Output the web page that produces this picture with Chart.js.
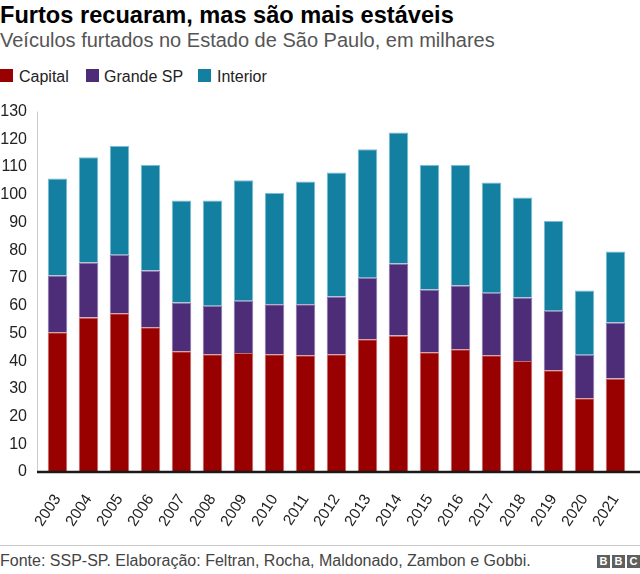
<!DOCTYPE html>
<html>
<head>
<meta charset="utf-8">
<script src="https://cdn.jsdelivr.net/npm/chart.js@4.4.1/dist/chart.umd.min.js"></script>
<style>
  html, body { margin: 0; padding: 0; background: #fff; }
  body { width: 640px; height: 574px; position: relative; overflow: hidden;
         font-family: "Liberation Sans", Arial, Helvetica, sans-serif; }
  .abs { position: absolute; white-space: nowrap; line-height: 1; }
  #title { left: 0; top: 4px; font-size: 23.6px; font-weight: bold; color: #000; }
  #subtitle { left: 0; top: 30px; font-size: 20px; color: #555; }
  #legend { left: 0; top: 69px; height: 16px; font-size: 16px; color: #222; }
  .lg-box { position: absolute; top: 0; width: 13px; height: 13px; }
  .lg-text { position: absolute; top: 0px; }
  #chartCanvas { position: absolute; left: 0; top: 87px; }
  #footline { position: absolute; left: 0; top: 545px; width: 640px; height: 1px; background: #c8c8c8; }
  #source { left: 0; top: 553px; font-size: 16px; color: #444; }
  #bbc { position: absolute; right: 0; top: 555px; height: 13px; }
  #bbc span { display: inline-block; width: 13px; height: 13px; margin-left: 2px; background: #5f5f5f;
              color: #fff; font-weight: bold; font-size: 11px; line-height: 13px; text-align: center; vertical-align: top; }
</style>
</head>
<body>
<div id="title" class="abs">Furtos recuaram, mas são mais estáveis</div>
<div id="subtitle" class="abs">Veículos furtados no Estado de São Paulo, em milhares</div>
<div id="legend" class="abs"></div>
<canvas id="chartCanvas" width="640" height="445"></canvas>
<div id="footline"></div>
<div id="source" class="abs">Fonte: SSP-SP. Elaboração: Feltran, Rocha, Maldonado, Zambon e Gobbi.</div>
<div id="bbc"><span>B</span><span>B</span><span>C</span></div>
<script>
// ---- Data (thousands of vehicles) ----
const years = ["2003","2004","2005","2006","2007","2008","2009","2010","2011","2012",
               "2013","2014","2015","2016","2017","2018","2019","2020","2021"];
const capital  = [50.4,55.7,57.3,52.2,43.6,42.5,42.9,42.5,42.1,42.5,47.9,49.2,43.2,44.3,42.1,40.0,36.7,26.6,33.7];
const grandeSP = [20.5,19.9,21.1,20.5,17.5,17.5,18.9,18.0,18.4,20.8,22.2,26.0,22.6,23.0,22.6,22.9,21.5,15.7,20.2];
const interior = [35.0,37.9,39.2,38.0,36.8,37.9,43.4,40.1,44.3,44.7,46.3,47.3,44.9,43.4,39.7,36.1,32.3,23.2,25.6];
const yTickValues = [0,10,20,30,40,50,60,70,80,90,100,110,120,130];
const seriesNames = ["Capital","Grande SP","Interior"];

const colors = ["#990000","#4d2c78","#1380a1"];
const borders = ["#c66a6a","#8a74ad","#7cbdd3"];

// ---- Legend (HTML) ----
const legendPos = [[0,19],[86,104],[198,217]];
const legendEl = document.getElementById('legend');
seriesNames.forEach((name,i)=>{
  const b = document.createElement('div');
  b.className='lg-box'; b.style.left=legendPos[i][0]+'px'; b.style.background=colors[i];
  legendEl.appendChild(b);
  const t = document.createElement('div');
  t.className='lg-text'; t.style.left=legendPos[i][1]+'px'; t.textContent=name;
  legendEl.appendChild(t);
});

const axisLines = {
  id: 'axisLines',
  afterDatasetsDraw(chart) {
    const ctx = chart.ctx, y = chart.scales.y, left = chart.chartArea.left;
    const y0 = y.getPixelForValue(0), yTop = y.getPixelForValue(yTickValues[yTickValues.length-1]);
    ctx.save();
    ctx.strokeStyle = '#cccccc'; ctx.lineWidth = 1;
    ctx.beginPath(); ctx.moveTo(left - 4.5, yTop); ctx.lineTo(left - 4.5, y0); ctx.stroke();
    ctx.strokeStyle = '#1a1a1a'; ctx.lineWidth = 2.5;
    ctx.beginPath(); ctx.moveTo(left - 5, y0); ctx.lineTo(chart.width, y0); ctx.stroke();
    ctx.restore();
  }
};

const fontFam = '"Liberation Sans", Arial, Helvetica, sans-serif';
new Chart(document.getElementById('chartCanvas'), {
  type: 'bar',
  data: {
    labels: years,
    datasets: [capital, grandeSP, interior].map((d,i)=>({
      label: seriesNames[i], data: d,
      backgroundColor: colors[i], borderColor: borders[i], borderWidth: 1,
      barPercentage: 0.63, categoryPercentage: 1.0
    }))
  },
  options: {
    responsive: false, animation: false, devicePixelRatio: 1,
    layout: { padding: { top: 7, right: 9, left: 0, bottom: 0 } },
    plugins: { legend: { display: false }, tooltip: { enabled: false }, title: { display: false } },
    scales: {
      x: {
        stacked: true,
        grid: { display: false, drawTicks: false }, border: { display: false },
        ticks: { color: '#222', font: { family: fontFam, size: 15.5 }, minRotation: 57, maxRotation: 57, padding: 19, autoSkip: false },
        afterFit(scale) { scale.height = 60; scale.paddingLeft = 0; scale.paddingRight = 0; }
      },
      y: {
        stacked: true, min: 0, max: 130,
        grid: { display: false, drawTicks: false }, border: { display: false },
        afterBuildTicks(scale) { scale.ticks = yTickValues.map(v=>({value:v})); },
        ticks: { color: '#222', font: { family: fontFam, size: 16 }, padding: 15 },
        afterFit(scale) { scale.width = 42; }
      }
    }
  },
  plugins: [axisLines]
});
</script>
</body>
</html>
